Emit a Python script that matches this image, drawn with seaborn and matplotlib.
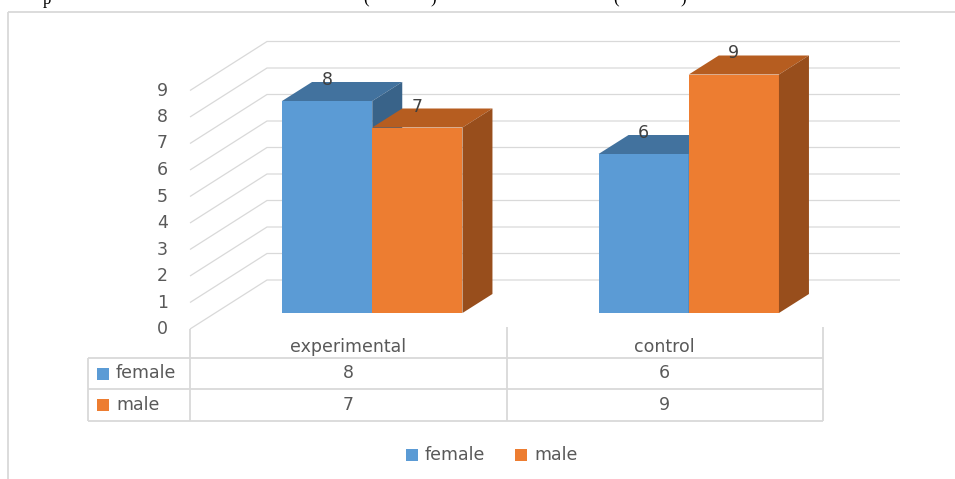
import matplotlib
matplotlib.use("Agg")
import matplotlib.pyplot as plt
from matplotlib.colors import to_rgb
from matplotlib.patches import Polygon, Rectangle
import numpy as np
import pandas as pd
import seaborn as sns

# ---- data -------------------------------------------------------------
groups = ["experimental", "control"]
series = ["female", "male"]
female = [8, 6]
male = [7, 9]
y_ticks = list(range(10))

# ---- style ------------------------------------------------------------
BLUE, ORANGE = "#5B9BD5", "#ED7D31"
TOP = {"female": "#42729E", "male": "#B65D20"}
SIDE = {"female": "#396389", "male": "#984E1C"}
GRID = "#D9D9D9"
TEXT = "#595959"
FS = 12.5

sns.set_theme(style="white")
plt.rcParams["font.family"] = ["DejaVu Sans"]

W, H = 955, 479
fig = plt.figure(figsize=(W / 100, H / 100), dpi=100)
fig.patch.set_facecolor("white")

# background layer in pixel units (y grows downward)
bg = fig.add_axes([0, 0, 1, 1])
bg.set_xlim(0, W)
bg.set_ylim(H, 0)
bg.set_axis_off()

# plane on which the bar fronts stand
ax = fig.add_axes([214 / W, (H - 313) / H, 633 / W, 238.5 / H])
ax.patch.set_alpha(0)

df = pd.DataFrame({
    "group": groups * 2,
    "sex": [series[0]] * len(groups) + [series[1]] * len(groups),
    "count": female + male,
})
sns.barplot(data=df, x="group", y="count", hue="sex", order=groups,
            hue_order=series, palette=[BLUE, ORANGE], width=0.57,
            errorbar=None, saturation=1, linewidth=0, legend=False, ax=ax)
ax.set_xlim(-0.5, len(groups) - 0.5)
ax.set_ylim(0, max(y_ticks))
ax.set_axis_off()

# pixel sizes of one data unit on the bar plane
px_per_x = (633) / (len(groups))
px_per_y = 238.5 / max(y_ticks)
DEPTH = (30 / px_per_x, 19 / px_per_y)      # bar depth in data units
FRONT = np.array([-24.0, 16.0])             # bar plane -> front plane (px)
BACK = np.array([53.0, -33.0])              # bar plane -> back wall (px)

inv = bg.transData.inverted()


def to_px(x, y):
    return inv.transform(ax.transData.transform((x, y)))


# ---- 3-D bar faces ----------------------------------------------------
values = {"female": female, "male": male}
blue_rgb = np.array(to_rgb(BLUE))
for p in ax.patches:
    if not isinstance(p, Rectangle) or p.get_height() == 0:
        continue
    name = "female" if np.allclose(p.get_facecolor()[:3], blue_rgb, atol=0.02) else "male"
    z = 2 if name == "female" else 4
    p.set_zorder(z)
    p.set_edgecolor("none")
    x0, w, h = p.get_x(), p.get_width(), p.get_height()
    dx, dy = DEPTH
    top = [(x0, h), (x0 + w, h), (x0 + w + dx, h + dy), (x0 + dx, h + dy)]
    side = [(x0 + w, 0), (x0 + w, h), (x0 + w + dx, h + dy), (x0 + w + dx, dy)]
    ax.add_patch(Polygon(top, closed=True, facecolor=TOP[name], edgecolor="none",
                         zorder=z + 0.1, clip_on=False))
    ax.add_patch(Polygon(side, closed=True, facecolor=SIDE[name], edgecolor="none",
                         zorder=z + 0.1, clip_on=False))
    gi = int(round(x0 + w / 2))
    val = values[name][gi]
    ax.text(x0 + w / 2, val + dy + 2 / px_per_y, str(val), ha="center", va="center",
            color="#404040", fontsize=FS, zorder=10, clip_on=False)

# ---- walls: gridlines and value labels --------------------------------
for v in y_ticks:
    p = to_px(-0.5, v)
    f = p + FRONT
    b = p + BACK
    r = b + np.array([633.0, 0.0])
    bg.plot([f[0], b[0], r[0]], [f[1], b[1], r[1]], color=GRID, lw=0.9,
            solid_capstyle="butt", zorder=1)
    bg.text(f[0] - 22, f[1], str(v), ha="right", va="center",
            color=TEXT, fontsize=FS)

# ---- data table -------------------------------------------------------
cols = [to_px(c - 0.5, 0) + FRONT for c in range(len(groups) + 1)]
xs = [c[0] for c in cols]
y0 = cols[0][1]
rows = [y0 + 29, y0 + 60, y0 + 92]
left = 88
tbl = dict(color=GRID, lw=1.3, solid_capstyle="butt", zorder=1)
for yy in rows:
    bg.plot([left, xs[-1]], [yy, yy], **tbl)
bg.plot([left, left], [rows[0], rows[-1]], **tbl)
bg.plot([xs[0], xs[0]], [y0, rows[-1]], **tbl)
for xx in xs[1:]:
    bg.plot([xx, xx], [y0 - 2, rows[-1]], **tbl)

for i, g in enumerate(groups):
    cx = (xs[i] + xs[i + 1]) / 2
    bg.text(cx, y0 + 18, g, ha="center", va="center", color=TEXT, fontsize=FS)
    for j, name in enumerate(series):
        cy = (rows[j] + rows[j + 1]) / 2
        bg.text(cx, cy, str(values[name][i]), ha="center", va="center",
                color=TEXT, fontsize=FS)

for j, (name, col) in enumerate(zip(series, [BLUE, ORANGE])):
    cy = (rows[j] + rows[j + 1]) / 2
    bg.add_patch(Rectangle((97, cy - 6), 12, 12, facecolor=col, edgecolor="none"))
    bg.text(116, cy, name, ha="left", va="center", color=TEXT, fontsize=FS)

# ---- legend -----------------------------------------------------------
for (name, col, kx) in zip(series, [BLUE, ORANGE], [406, 515]):
    bg.add_patch(Rectangle((kx, 449), 12, 12, facecolor=col, edgecolor="none"))
    bg.text(kx + 19, 455, name, ha="left", va="center", color=TEXT, fontsize=FS)

# ---- chart frame ------------------------------------------------------
bg.plot([8, W], [12, 12], color=GRID, lw=1.3, solid_capstyle="butt")
bg.plot([8, 8], [12, H], color=GRID, lw=1.3, solid_capstyle="butt")

# lower edges of the caption line above the chart
for ch, x in [("p", 43), ("(", 366), (")", 433), ("(", 616), (")", 683)]:
    bg.text(x, 3.5, ch, ha="left" if ch == "p" else "center", va="baseline",
            family="Liberation Serif", fontsize=12, color="black")

fig.savefig("out.png", dpi=100)
